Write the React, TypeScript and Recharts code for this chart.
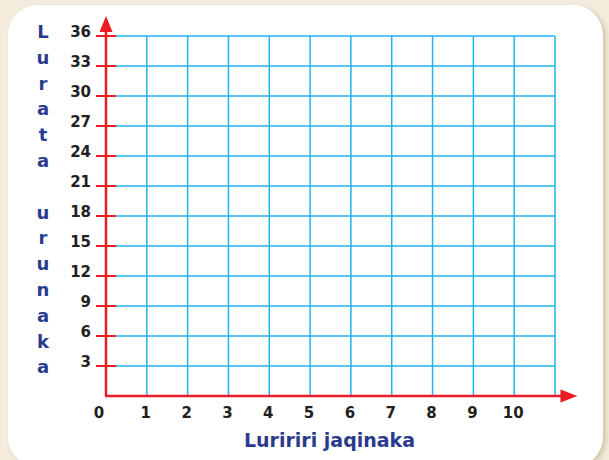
import { ComposedChart, XAxis, YAxis, CartesianGrid, ReferenceLine, Line } from "recharts";

// x grid runs one step past the last labelled value
const xTicks = [0, 1, 2, 3, 4, 5, 6, 7, 8, 9, 10, 11];
const xLabels = ["0", "1", "2", "3", "4", "5", "6", "7", "8", "9", "10", ""];
const yTicks = [0, 3, 6, 9, 12, 15, 18, 21, 24, 27, 30, 33, 36];
const yLabels = ["", "3", "6", "9", "12", "15", "18", "21", "24", "27", "30", "33", "36"];
const points: { x: number; y: number }[] = [];

const xTitle = "Luririri jaqinaka";
const yTitle = "Lurata urunaka";

const RED = "#ec1c24";
const GRID = "#1fb5ed";
const BLUE = "#2a3b8f";
const INK = "#231f20";
const FONT = "'DejaVu Sans', sans-serif";

const XTick = (props: any) => {
  const { x, y, payload, index } = props;
  const label = xLabels[index] ?? "";
  if (!label) return null;
  return (
    <text
      x={x + (payload.value === 0 ? -7 : -1)}
      y={y + 22}
      textAnchor="middle"
      fontSize={15}
      fontWeight={700}
      fontFamily={FONT}
      fill={INK}
    >
      {label}
    </text>
  );
};

const YTick = (props: any) => {
  const { x, y, index } = props;
  const label = yLabels[index] ?? "";
  if (!label) return null;
  return (
    <g>
      <line x1={x - 10} x2={x + 10} y1={y} y2={y} stroke={RED} strokeWidth={2} />
      <text
        x={x - 15}
        y={y + 1}
        textAnchor="end"
        fontSize={15}
        fontWeight={700}
        fontFamily={FONT}
        fill={INK}
      >
        {label}
      </text>
    </g>
  );
};

// stacked vertical title, one letter per row
const YTitle = () => (
  <g>
    {yTitle.split("").map((ch, i) =>
      ch === " " ? null : (
        <text
          key={i}
          x={43}
          y={38 + i * 25.8}
          textAnchor="middle"
          fontSize={18}
          fontWeight={700}
          fontFamily={FONT}
          fill={BLUE}
        >
          {ch}
        </text>
      )
    )}
  </g>
);

const XTitle = (props: any) => {
  const { viewBox } = props;
  return (
    <text
      x={viewBox.x + viewBox.width / 2 - 1}
      y={viewBox.y + 51}
      textAnchor="middle"
      fontSize={19}
      fontWeight={700}
      fontFamily={FONT}
      fill={BLUE}
    >
      {xTitle}
    </text>
  );
};

const ArrowY = (props: any) => {
  const { x1, y1, x2, y2 } = props;
  const top = Math.min(y1, y2);
  const bottom = Math.max(y1, y2);
  return (
    <g>
      <line x1={x1} x2={x2} y1={bottom} y2={top + 10} stroke={RED} strokeWidth={2.5} />
      <polygon points={`${x1},${top} ${x1 - 6.5},${top + 16} ${x1 + 6.5},${top + 16}`} fill={RED} />
    </g>
  );
};

const ArrowX = (props: any) => {
  const { x1, y1, x2 } = props;
  const left = Math.min(x1, x2);
  const right = Math.max(x1, x2);
  return (
    <g>
      <line x1={left - 1} x2={right - 10} y1={y1} y2={y1} stroke={RED} strokeWidth={2.5} />
      <polygon points={`${right},${y1} ${right - 17},${y1 - 6.5} ${right - 17},${y1 + 6.5}`} fill={RED} />
    </g>
  );
};

export default function App() {
  return (
    <div
      style={{
        position: "absolute",
        left: 0,
        top: 0,
        width: 609,
        height: 460,
        background: "#f3ebdb",
        overflow: "hidden",
      }}
    >
      <div
        style={{
          position: "absolute",
          left: 8,
          top: 5,
          width: 595,
          height: 462,
          background: "#fff",
          borderRadius: 30,
          boxShadow: "3px 2px 4px rgba(170,150,120,0.45)",
        }}
      />
      <div style={{ position: "absolute", left: 0, top: 0 }}>
        <ComposedChart
          width={609}
          height={460}
          data={points}
          margin={{ top: 36, right: 54, bottom: 0, left: 0 }}
        >
          <CartesianGrid stroke={GRID} strokeWidth={1.5} />
          <XAxis
            type="number"
            dataKey="x"
            domain={[0, 11]}
            ticks={xTicks}
            interval={0}
            allowDataOverflow
            axisLine={false}
            tickLine={false}
            tickSize={0}
            tickMargin={0}
            height={64}
            tick={<XTick />}
            label={<XTitle />}
          />
          <YAxis
            type="number"
            dataKey="y"
            domain={[0, 36]}
            ticks={yTicks}
            interval={0}
            allowDataOverflow
            axisLine={false}
            tickLine={false}
            tickSize={0}
            tickMargin={0}
            width={106}
            tick={<YTick />}
          />
          <Line dataKey="y" isAnimationActive={false} stroke="none" dot={false} />
          <ReferenceLine
            segment={[{ x: 0, y: 0 }, { x: 0, y: 38 }]}
            ifOverflow="visible"
            shape={<ArrowY />}
          />
          <ReferenceLine
            segment={[{ x: 0, y: 0 }, { x: 11.55, y: 0 }]}
            ifOverflow="visible"
            shape={<ArrowX />}
          />
        </ComposedChart>
        <svg width={100} height={400} style={{ position: "absolute", left: 0, top: 0 }}>
          <YTitle />
        </svg>
      </div>
    </div>
  );
}
